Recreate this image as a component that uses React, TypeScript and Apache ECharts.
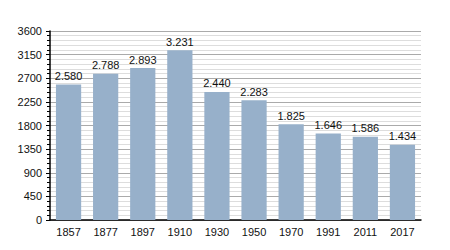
import React, { useEffect, useRef } from "react";
import * as echarts from "echarts";

const categories = ["1857", "1877", "1897", "1910", "1930", "1950", "1970", "1991", "2011", "2017"];
const population = [2580, 2788, 2893, 3231, 2440, 2283, 1825, 1646, 1586, 1434];

const fmt = (v: number) => {
  const s = String(Math.round(v));
  return s.length > 3 ? s.slice(0, s.length - 3) + "." + s.slice(-3) : s;
};

export default function App() {
  const ref = useRef<HTMLDivElement>(null);
  useEffect(() => {
    document.body.style.margin = "0";
    const chart = echarts.init(ref.current!, null, { renderer: "svg" });
    chart.setOption({
      animation: false,
      backgroundColor: "#ffffff",
      grid: { left: 50, right: 29, top: 31, bottom: 30 },
      xAxis: {
        type: "category",
        data: categories,
        axisLine: { show: true, lineStyle: { color: "#000", width: 1.5 } },
        axisTick: { show: false },
        axisLabel: { color: "#111", fontSize: 11, fontFamily: "Liberation Sans", margin: 6 },
        splitLine: { show: false },
      },
      yAxis: {
        type: "value",
        min: 0,
        max: 3600,
        interval: 450,
        axisLine: { show: true, lineStyle: { color: "#000", width: 1.5 } },
        axisTick: { show: true, length: 4, lineStyle: { color: "#000" } },
        minorTick: { show: true, splitNumber: 5, length: 3, lineStyle: { color: "#000" } },
        axisLabel: {
          color: "#111",
          fontSize: 11,
          fontFamily: "Liberation Sans",
          margin: 8,
          formatter: (v: number) => String(v),
        },
        splitLine: { show: true, lineStyle: { color: "#aaaaaa", width: 1 } },
        minorSplitLine: { show: true, lineStyle: { color: "#dddddd", width: 1 } },
      },
      series: [
        {
          type: "bar",
          data: population,
          barCategoryGap: "32%",
          itemStyle: { color: "#97b0ca" },
          label: {
            show: true,
            position: "top",
            distance: 3,
            color: "#111",
            fontSize: 11,
            fontFamily: "Liberation Sans",
            formatter: (p: any) => fmt(p.value),
          },
        },
      ],
    });
    return () => chart.dispose();
  }, []);
  return <div ref={ref} style={{ width: 450, height: 250 }} />;
}
